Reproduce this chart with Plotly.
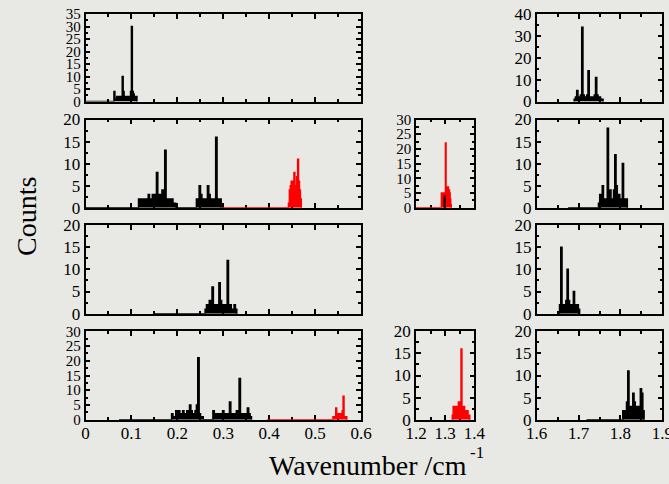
import plotly.graph_objects as go

BG = "#e8e8e4"
FONT = "Liberation Serif, Times New Roman, serif"

# ---------------- data (bin centres, counts) ----------------
r1_left_x = [0.0, 0.061, 0.063, 0.065, 0.067, 0.069, 0.071, 0.073, 0.075, 0.077, 0.079, 0.081, 0.083, 0.085,
             0.087, 0.089, 0.091, 0.093, 0.095, 0.097, 0.099, 0.101, 0.103, 0.105, 0.107, 0.109, 0.111, 0.113]
r1_left_y = [0, 0, 4, 1, 1, 2, 1, 2, 2, 1, 2, 10, 4, 2, 1, 2, 1, 2, 1, 2, 4, 30, 4, 3, 2, 2, 2, 0]

r2_left_x = [0.0, 0.114, 0.117, 0.120, 0.123, 0.126, 0.129, 0.132, 0.135, 0.138, 0.141, 0.144, 0.147, 0.150,
             0.153, 0.156, 0.159, 0.162, 0.165, 0.168, 0.171, 0.174, 0.177, 0.180, 0.183, 0.186, 0.189,
             0.192, 0.195, 0.198, 0.240, 0.243, 0.246, 0.249, 0.252, 0.255, 0.258, 0.261, 0.264, 0.267,
             0.270, 0.273, 0.276, 0.279, 0.282, 0.285, 0.288, 0.291, 0.294, 0.297]
r2_left_y = [0, 0, 2, 2, 2, 1, 2, 1, 2, 3, 1, 2, 3, 2, 3, 8, 3, 2, 3, 4, 2, 13, 2, 1, 2, 2, 2, 1, 1, 0,
             0, 2, 1, 5, 3, 1, 2, 2, 1, 5, 3, 2, 1, 2, 2, 16, 2, 2, 2, 0]
r2_left_red_x = [0.297, 0.441, 0.443, 0.445, 0.447, 0.449, 0.451, 0.453, 0.455, 0.457, 0.459, 0.461, 0.463,
                 0.465, 0.467, 0.469, 0.471]
r2_left_red_y = [0, 0, 1, 4, 5, 6, 4, 6, 8, 5, 4, 7, 11, 6, 4, 2, 0]

r3_left_x = [0.148, 0.259, 0.262, 0.265, 0.268, 0.271, 0.274, 0.277, 0.280, 0.283, 0.286, 0.289, 0.292,
             0.295, 0.298, 0.301, 0.304, 0.307, 0.310, 0.313, 0.316, 0.319, 0.322, 0.325, 0.328, 0.331]
r3_left_y = [0, 0, 1, 2, 2, 3, 1, 6, 2, 2, 2, 1, 7, 3, 1, 2, 2, 1, 12, 2, 2, 1, 1, 2, 1, 0]

r4_left_x = [0.073, 0.186, 0.189, 0.192, 0.195, 0.198, 0.201, 0.204, 0.207, 0.210, 0.213, 0.216, 0.219,
             0.222, 0.225, 0.228, 0.231, 0.234, 0.237, 0.240, 0.243, 0.246, 0.249, 0.252, 0.255, 0.258,
             0.276, 0.279, 0.282, 0.285, 0.288, 0.291, 0.294, 0.297, 0.300, 0.303, 0.306, 0.309, 0.312,
             0.315, 0.318, 0.321, 0.324, 0.327, 0.330, 0.333, 0.336, 0.339, 0.342, 0.345, 0.348, 0.351,
             0.354, 0.357, 0.360, 0.363]
r4_left_y = [0, 0, 2, 1, 1, 3, 2, 3, 2, 1, 3, 2, 1, 3, 2, 5, 3, 2, 2, 3, 5, 21, 2, 1, 1, 0,
             0, 3, 2, 2, 2, 1, 2, 2, 3, 2, 2, 2, 2, 6, 2, 2, 2, 2, 3, 2, 14, 2, 2, 2, 2, 2, 4, 2, 1, 0]
r4_left_red_x = [0.395, 0.538, 0.540, 0.542, 0.544, 0.546, 0.548, 0.550, 0.552, 0.554, 0.556, 0.558,
                 0.560, 0.562, 0.564, 0.566, 0.568, 0.570]
r4_left_red_y = [0, 0, 1, 1, 1, 4, 1, 2, 1, 2, 2, 2, 3, 8, 1, 1, 1, 0]

r2_mid_red_x = [1.2, 1.286, 1.288, 1.290, 1.292, 1.294, 1.296, 1.298, 1.300, 1.302, 1.304, 1.306, 1.308,
                1.310, 1.312, 1.314, 1.316, 1.318, 1.320, 1.322]
r2_mid_red_y = [0, 0, 5, 5, 5, 4, 5, 3, 3, 22, 5, 6, 7, 7, 6, 6, 5, 3, 1, 0]
r2_mid_x = [1.296, 1.298, 1.300]
r2_mid_y = [0, 4, 0]

r4_mid_red_x = [1.323, 1.326, 1.329, 1.332, 1.335, 1.338, 1.341, 1.344, 1.347, 1.350, 1.353, 1.356, 1.359,
                1.362, 1.365, 1.368, 1.371, 1.374, 1.377, 1.380, 1.383, 1.386]
r4_mid_red_y = [0, 1, 3, 3, 3, 3, 2, 3, 4, 4, 3, 16, 3, 3, 3, 2, 2, 2, 2, 1, 1, 0]

r1_right_x = [1.688, 1.691, 1.694, 1.697, 1.700, 1.703, 1.706, 1.709, 1.712, 1.715, 1.718, 1.721, 1.724,
              1.727, 1.730, 1.733, 1.736, 1.739, 1.742, 1.745, 1.748, 1.751, 1.754, 1.757, 1.760]
r1_right_y = [0, 1, 2, 5, 2, 2, 3, 34, 3, 2, 2, 3, 14, 2, 2, 2, 2, 3, 11, 3, 2, 2, 1, 1, 0]

r2_right_x = [1.675, 1.746, 1.749, 1.752, 1.755, 1.758, 1.761, 1.764, 1.767, 1.770, 1.773, 1.776, 1.779,
              1.782, 1.785, 1.788, 1.791, 1.794, 1.797, 1.800, 1.803, 1.806, 1.809, 1.812, 1.815, 1.818]
r2_right_y = [0, 0, 1, 3, 3, 5, 2, 1, 2, 18, 2, 4, 2, 2, 4, 12, 5, 3, 3, 2, 2, 10, 2, 2, 2, 0]

r3_right_x = [1.653, 1.656, 1.659, 1.662, 1.665, 1.668, 1.671, 1.674, 1.677, 1.680, 1.683, 1.686, 1.689,
              1.692, 1.695, 1.698, 1.701, 1.704]
r3_right_y = [0, 2, 15, 2, 2, 2, 3, 10, 3, 2, 2, 2, 5, 2, 1, 2, 1, 0]

r4_right_x = [1.719, 1.804, 1.807, 1.810, 1.813, 1.816, 1.819, 1.822, 1.825, 1.828, 1.831, 1.834, 1.837,
              1.840, 1.843, 1.846, 1.849, 1.852, 1.855, 1.858]
r4_right_y = [0, 0, 2, 2, 2, 4, 11, 3, 3, 3, 6, 4, 2, 3, 2, 3, 7, 6, 2, 0]

# ---------------- panel layout ----------------
W, H = 669, 484
cols = {"L": (85.5, 361.0), "M": (416.0, 474.3), "R": (536.7, 662.3)}
rows = {1: (14.0, 101.5), 2: (119.5, 207.7), 3: (225.0, 313.7), 4: (331.3, 419.7)}
xr = {"L": [0, 0.6], "M": [1.2, 1.4], "R": [1.6, 1.9]}

panels = [
    # (row, col, yrange, ydtick, [(x, y, color), ...])
    (1, "L", [0, 35], 5, [(r1_left_x, r1_left_y, "black")]),
    (2, "L", [0, 20], 5, [(r2_left_x, r2_left_y, "black"), (r2_left_red_x, r2_left_red_y, "red")]),
    (3, "L", [0, 20], 5, [(r3_left_x, r3_left_y, "black")]),
    (4, "L", [0, 30], 5, [(r4_left_x, r4_left_y, "black"), (r4_left_red_x, r4_left_red_y, "red")]),
    (2, "M", [0, 30], 5, [(r2_mid_red_x, r2_mid_red_y, "red"), (r2_mid_x, r2_mid_y, "black")]),
    (4, "M", [0, 20], 5, [(r4_mid_red_x, r4_mid_red_y, "red")]),
    (1, "R", [0, 40], 10, [(r1_right_x, r1_right_y, "black")]),
    (2, "R", [0, 20], 5, [(r2_right_x, r2_right_y, "black")]),
    (3, "R", [0, 20], 5, [(r3_right_x, r3_right_y, "black")]),
    (4, "R", [0, 20], 5, [(r4_right_x, r4_right_y, "black")]),
]

fig = go.Figure()
layout = {}
for i, (row, col, yrange, ydt, series) in enumerate(panels, start=1):
    sfx = "" if i == 1 else str(i)
    x0, x1 = cols[col]
    top, bot = rows[row]
    dense = (yrange[1] / ydt) > 5
    for xs, ys, c in series:
        fig.add_trace(go.Scatter(x=xs, y=ys, mode="lines", line=dict(color=c, width=1.5, shape="hvh"),
                                 fill="tozeroy", fillcolor=c, xaxis="x" + sfx, yaxis="y" + sfx,
                                 showlegend=False, hoverinfo="skip"))
    common = dict(showline=True, linecolor="black", linewidth=1.5, mirror="allticks", ticks="inside",
                  ticklen=5, tickwidth=1.5, tickcolor="black", showgrid=False, zeroline=False,
                  layer="below traces", automargin=False, ticklabeloverflow="allow")
    layout["xaxis" + sfx] = dict(common, domain=[x0 / W, x1 / W], range=xr[col], dtick=0.1,
                                 tick0=xr[col][0], anchor="y" + sfx, showticklabels=(row == 4),
                                 ticklabelstandoff=-3,
                                 tickfont=dict(family=FONT, size=17, color="black"),
                                 minor=dict(ticks="inside", ticklen=3, tickwidth=1.5, dtick=0.05,
                                            tickcolor="black"))
    layout["yaxis" + sfx] = dict(common, domain=[1 - bot / H, 1 - top / H], range=yrange, dtick=ydt,
                                 tick0=0, anchor="x" + sfx,
                                 tickfont=dict(family=FONT, size=15 if dense else 17, color="black"),
                                 minor=dict(ticks="inside", ticklen=3, tickwidth=1.5, dtick=ydt / 2,
                                            tickcolor="black"))

fig.update_layout(**layout)
fig.update_layout(
    width=W, height=H, margin=dict(l=0, r=0, t=0, b=0, autoexpand=False),
    paper_bgcolor=BG, plot_bgcolor=BG, showlegend=False,
    annotations=[
        dict(text="Counts", x=26 / W, y=1 - 216 / H, xref="paper", yref="paper", showarrow=False,
             textangle=-90, font=dict(family=FONT, size=28, color="black"), xanchor="center", yanchor="middle"),
        dict(text="Wavenumber /cm", x=367.5 / W, y=1 - 465 / H, xref="paper", yref="paper", showarrow=False,
             font=dict(family=FONT, size=28, color="black"), xanchor="center", yanchor="middle"),
        dict(text="-1", x=477 / W, y=1 - 452 / H, xref="paper", yref="paper", showarrow=False,
             font=dict(family=FONT, size=17, color="black"), xanchor="center", yanchor="middle"),
    ],
)
fig.write_html("out.html")
